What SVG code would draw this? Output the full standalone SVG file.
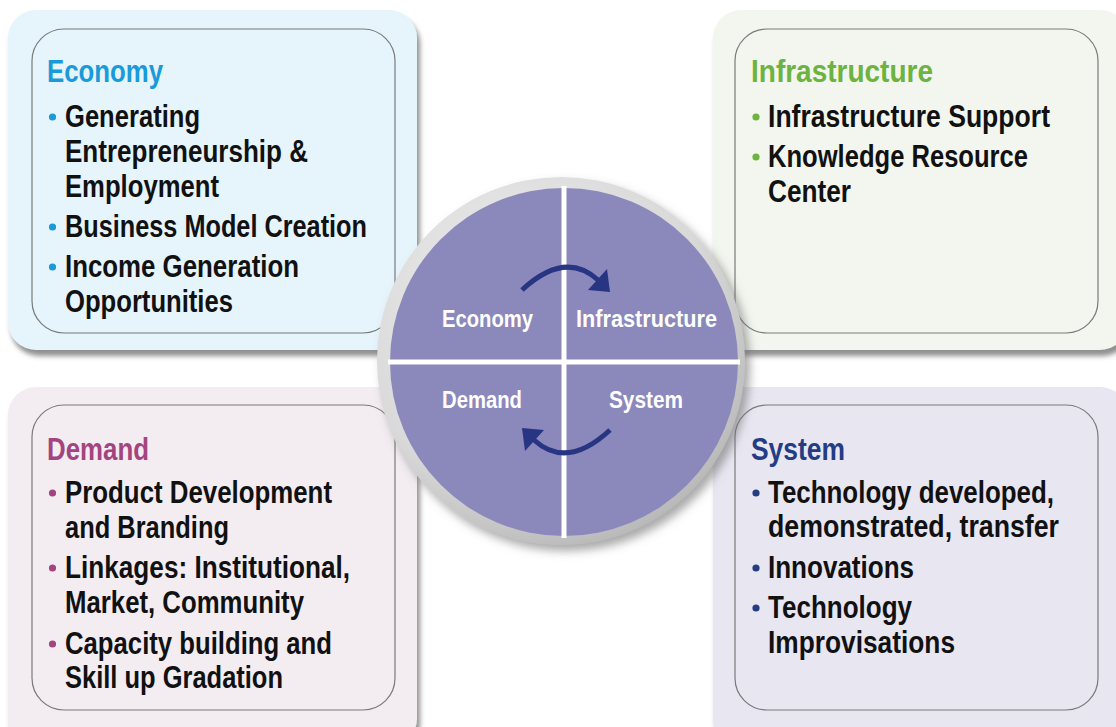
<svg xmlns="http://www.w3.org/2000/svg" width="1116" height="727" viewBox="0 0 1116 727">
  <defs>
    <filter id="boxShadow" x="-10%" y="-10%" width="125%" height="125%">
      <feDropShadow dx="3" dy="6" stdDeviation="2.5" flood-color="#7d7d7d" flood-opacity="0.85"/>
    </filter>
    <filter id="ringShadow" x="-15%" y="-15%" width="135%" height="135%">
      <feDropShadow dx="5" dy="6" stdDeviation="5" flood-color="#6f6f6f" flood-opacity="0.6"/>
    </filter>
    <radialGradient id="ringFill" cx="40%" cy="35%" r="70%">
      <stop offset="0" stop-color="#f0f0f0"/>
      <stop offset="0.7" stop-color="#d9d9d9"/>
      <stop offset="1" stop-color="#b5b5b5"/>
    </radialGradient>
  </defs>
  <style>
    text { font-family: "Liberation Sans", Arial, "DejaVu Sans Condensed", sans-serif; font-weight: bold; }
    .inner { fill: none; stroke: #7a7a7a; stroke-width: 1.2; }
    .title { font-size: 31px; }
    .item { font-size: 32px; fill: #111111; }
    .hub { font-size: 24px; fill: #ffffff; }
    .cycle { fill: none; stroke: #283583; stroke-width: 5; }
    .head { fill: #283583; }
  </style>

  <!-- Economy panel -->
  <g id="economy">
    <rect x="8" y="10" width="409" height="340" rx="28" fill="#e6f4fc" filter="url(#boxShadow)"/>
    <rect class="inner" x="32" y="29" width="363" height="304" rx="32"/>
    <text class="title" x="47" y="82" fill="#1a9ad9" textLength="116" lengthAdjust="spacingAndGlyphs">Economy</text>
    <g fill="#1a9ad9">
      <circle cx="52.5" cy="117" r="3.6"/>
      <circle cx="52.5" cy="227" r="3.6"/>
      <circle cx="52.5" cy="267" r="3.6"/>
    </g>
    <text class="item" x="65" y="127" textLength="135" lengthAdjust="spacingAndGlyphs">Generating</text>
    <text class="item" x="65" y="162" textLength="243" lengthAdjust="spacingAndGlyphs">Entrepreneurship &amp;</text>
    <text class="item" x="65" y="197" textLength="154" lengthAdjust="spacingAndGlyphs">Employment</text>
    <text class="item" x="65" y="237" textLength="302" lengthAdjust="spacingAndGlyphs">Business Model Creation</text>
    <text class="item" x="65" y="277" textLength="234" lengthAdjust="spacingAndGlyphs">Income Generation</text>
    <text class="item" x="65" y="312" textLength="168" lengthAdjust="spacingAndGlyphs">Opportunities</text>
  </g>

  <!-- Infrastructure panel -->
  <g id="infrastructure">
    <rect x="713" y="10" width="415" height="340" rx="28" fill="#f3f6ee" filter="url(#boxShadow)"/>
    <rect class="inner" x="735" y="29" width="363" height="304" rx="32"/>
    <text class="title" x="751" y="82" fill="#6cb33f" textLength="182" lengthAdjust="spacingAndGlyphs">Infrastructure</text>
    <g fill="#6cb33f">
      <circle cx="756" cy="117" r="3.6"/>
      <circle cx="756" cy="157" r="3.6"/>
    </g>
    <text class="item" x="768" y="127" textLength="282" lengthAdjust="spacingAndGlyphs">Infrastructure Support</text>
    <text class="item" x="768" y="167" textLength="260" lengthAdjust="spacingAndGlyphs">Knowledge Resource</text>
    <text class="item" x="768" y="202" textLength="83" lengthAdjust="spacingAndGlyphs">Center</text>
  </g>

  <!-- Demand panel -->
  <g id="demand">
    <rect x="8" y="387" width="409" height="360" rx="28" fill="#f3edf2" filter="url(#boxShadow)"/>
    <rect class="inner" x="32" y="405" width="363" height="305" rx="32"/>
    <text class="title" x="47" y="460" fill="#a4447f" textLength="102" lengthAdjust="spacingAndGlyphs">Demand</text>
    <g fill="#a4447f">
      <circle cx="52.5" cy="493" r="3.6"/>
      <circle cx="52.5" cy="568" r="3.6"/>
      <circle cx="52.5" cy="644" r="3.6"/>
    </g>
    <text class="item" x="65" y="503" textLength="267" lengthAdjust="spacingAndGlyphs">Product Development</text>
    <text class="item" x="65" y="538" textLength="164" lengthAdjust="spacingAndGlyphs">and Branding</text>
    <text class="item" x="65" y="578" textLength="285" lengthAdjust="spacingAndGlyphs">Linkages: Institutional,</text>
    <text class="item" x="65" y="613" textLength="239" lengthAdjust="spacingAndGlyphs">Market, Community</text>
    <text class="item" x="65" y="654" textLength="267" lengthAdjust="spacingAndGlyphs">Capacity building and</text>
    <text class="item" x="65" y="688" textLength="218" lengthAdjust="spacingAndGlyphs">Skill up Gradation</text>
  </g>

  <!-- System panel -->
  <g id="system">
    <rect x="713" y="387" width="415" height="360" rx="28" fill="#e8e6f1" filter="url(#boxShadow)"/>
    <rect class="inner" x="735" y="405" width="363" height="305" rx="32"/>
    <text class="title" x="751" y="460" fill="#243c84" textLength="94" lengthAdjust="spacingAndGlyphs">System</text>
    <g fill="#243c84">
      <circle cx="756" cy="493" r="3.6"/>
      <circle cx="756" cy="568" r="3.6"/>
      <circle cx="756" cy="608" r="3.6"/>
    </g>
    <text class="item" x="768" y="503" textLength="286" lengthAdjust="spacingAndGlyphs">Technology developed,</text>
    <text class="item" x="768" y="537" textLength="291" lengthAdjust="spacingAndGlyphs">demonstrated, transfer</text>
    <text class="item" x="768" y="578" textLength="146" lengthAdjust="spacingAndGlyphs">Innovations</text>
    <text class="item" x="768" y="618" textLength="144" lengthAdjust="spacingAndGlyphs">Technology</text>
    <text class="item" x="768" y="653" textLength="187" lengthAdjust="spacingAndGlyphs">Improvisations</text>
  </g>

  <!-- Central hub: ring, quadrants and labels -->
  <g id="hub">
    <circle cx="561" cy="361" r="184" fill="url(#ringFill)" filter="url(#ringShadow)"/>
    <circle cx="564" cy="362" r="174" fill="#8b88bb"/>
    <line x1="564" y1="186" x2="564" y2="538" stroke="#ffffff" stroke-width="5"/>
    <line x1="388" y1="362" x2="740" y2="362" stroke="#ffffff" stroke-width="5"/>
    <text class="hub" x="442" y="327" textLength="91" lengthAdjust="spacingAndGlyphs">Economy</text>
    <text class="hub" x="576" y="327" textLength="141" lengthAdjust="spacingAndGlyphs">Infrastructure</text>
    <text class="hub" x="442" y="408" textLength="80" lengthAdjust="spacingAndGlyphs">Demand</text>
    <text class="hub" x="609" y="408" textLength="74" lengthAdjust="spacingAndGlyphs">System</text>
  </g>

  <!-- Cycle arrows -->
  <g id="connectors">
    <path class="cycle" d="M522,290 Q565,250 598,280"/>
    <polygon class="head" points="588,290 607,269 610,292"/>
    <path class="cycle" d="M610,430 Q567,470 534,440"/>
    <polygon class="head" points="544,430 525,451 522,428"/>
  </g>
</svg>
